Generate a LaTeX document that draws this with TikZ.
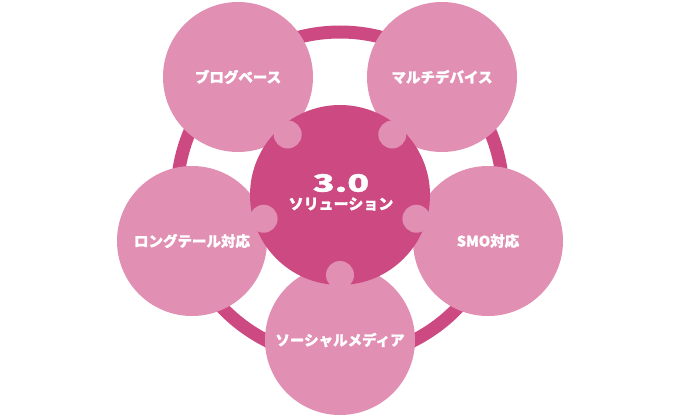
\documentclass[tikz,border=0pt]{standalone}
\usepackage{fontspec}
\usepackage{graphicx}
\newfontfamily\jpfont[BoldFeatures={FakeBold=1.2}]{Noto Sans CJK JP}
\usetikzlibrary{calc}
\definecolor{rosedark}{RGB}{204,73,130}
\definecolor{roselight}{RGB}{225,143,179}
\tikzset{
  satellite/.style={circle, fill=roselight, minimum size=150pt, inner sep=0pt,
    text=white, font=\jpfont\bfseries\fontsize{14.5}{17}\selectfont},
  core/.style={circle, fill=rosedark, minimum size=180pt, inner sep=0pt},
  knob/.style={fill=roselight},
  ring/.style={draw=rosedark, line width=13pt}
}
\begin{document}
\begin{tikzpicture}[x=1pt,y=-1pt]
  \useasboundingbox (0,0) rectangle (680,420);
  % outer ring
  \draw[ring] (340,195) circle (163pt);
  % satellites
  \node[satellite] (blog)   at (238,77)  {ブログベース};
  \node[satellite] (multi)  at (442,77)  {マルチデバイス};
  \node[satellite] (long)   at (192,241) {ロングテール対応};
  \node[satellite] (smo)    at (488,241) {SMO対応};
  \node[satellite] (social) at (340,340) {ソーシャルメディア};
  % centre
  \node[core] (hub) at (340,195) {};
  \foreach \s in {blog,multi,long,smo,social} {
    \fill[knob] ($(hub.center)!80pt!(\s.center)$) circle (14pt);
  }
  \node[text=white, font=\jpfont\bfseries\fontsize{24}{28}\selectfont] (ver) at (341,183) {\scalebox{1.5}[1]{3.0}};
  \node[text=white, font=\jpfont\bfseries\fontsize{15}{18}\selectfont] (sol) at (341,204) {ソリューション};
\end{tikzpicture}
\end{document}
